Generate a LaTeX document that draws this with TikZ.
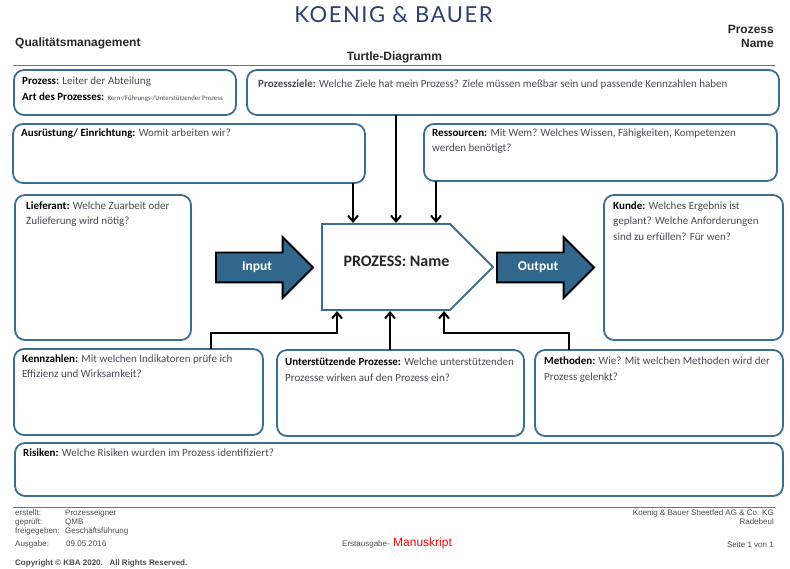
\documentclass[tikz,border=0pt]{standalone}
\usepackage{fontspec}
\setmainfont{Carlito}
\newfontfamily\hfont{Liberation Sans}
\newfontfamily\logofont[LetterSpace=7]{Lato}
\usetikzlibrary{shapes.arrows,arrows.meta}
\definecolor{edge}{HTML}{3A6E92}
\definecolor{fillblue}{HTML}{31678C}
\definecolor{bodytxt}{HTML}{4A4A55}
\definecolor{logoblue}{HTML}{2C3F73}
\tikzset{
 x=1pt,y=-1pt,
 box/.style={draw=edge,line width=1.8pt,rounded corners=10pt,inner sep=0pt,outer sep=0pt,fill=white},
 boxtxt/.style={anchor=west,inner sep=0pt,align=left,text=bodytxt,font=\fontsize{11}{15.4}\selectfont},
 hdr/.style={inner sep=0pt,font=\fontsize{12}{14}\selectfont\hfont\bfseries,text=black!85},
 foot/.style={inner sep=0pt,anchor=west,text=black!70,font=\fontsize{8}{9}\selectfont\hfont},
 footr/.style={foot,anchor=east},
 rulel/.style={draw=black!55,line width=0.9pt},
 conn/.style={draw=black,line width=2pt,-{Straight Barb[length=6pt,width=10pt,line width=2pt]}},
 bigarrow/.style={shape=single arrow,draw=black,line width=1.8pt,fill=fillblue,inner xsep=0pt,inner ysep=8.75pt,outer sep=0pt,
   anchor=tail,minimum width=59pt,minimum height=97pt,single arrow head extend=15.5pt,single arrow head indent=0pt,
   text height=8pt,text depth=2.5pt,text=white,font=\fontsize{13.5}{14}\selectfont\bfseries},
 procshape/.style={draw=edge,line width=1.8pt,fill=white,line join=miter},
}
\newcommand{\rbox}[5]{\node[box,minimum width=#4 pt-#2 pt,minimum height=#5 pt-#3 pt] (#1) at ({(#2+#4)/2},{(#3+#5)/2}) {};}
\begin{document}
\begin{tikzpicture}
\useasboundingbox (0,0) rectangle (790,569);
% header
\node[inner sep=0pt,text=logoblue,font=\fontsize{22}{24}\selectfont\logofont] (logo) at (393.5,15) {KOENIG \& BAUER};
\node[hdr,anchor=west] (qm) at (15,43) {Qualitätsmanagement};
\node[hdr,anchor=east] (pr1) at (774,29) {Prozess};
\node[hdr,anchor=east] (pr2) at (774,43) {Name};
\node[hdr] (turtle) at (394.5,57.5) {Turtle-Diagramm};
\coordinate (hl) at (13,65); \coordinate (hr) at (775,65);
\draw[rulel] (hl) -- (hr);
% boxes
\rbox{prozess}{14}{70}{236}{115}
\rbox{ziele}{247}{70}{779}{115}
\rbox{aus}{13}{124}{365}{183}
\rbox{res}{424}{124}{777}{181}
\rbox{lief}{15}{195}{191}{340}
\rbox{kunde}{604}{195}{783}{340}
\rbox{kenn}{14}{349}{263}{435}
\rbox{unter}{277}{350}{524}{436}
\rbox{meth}{535}{350}{783}{436}
\rbox{ris}{15}{443}{783}{496}
% box texts
\node[boxtxt] (t1) at (22,82) {\textcolor{black}{\textbf{Prozess:}} Leiter der Abteilung};
\node[boxtxt] (t1b) at (22,97) {\textcolor{black}{\textbf{Art des Prozesses:}} {\fontsize{6.8}{7}\selectfont Kern-/Führungs-/Unterstützender Prozess}};
\node[boxtxt] (t2) at (258,85) {\textbf{Prozessziele:} Welche Ziele hat mein Prozess? Ziele müssen meßbar sein und passende Kennzahlen haben};
\node[boxtxt] (t3) at (21,134) {\textcolor{black}{\textbf{Ausrüstung/ Einrichtung:}} Womit arbeiten wir?};
\node[boxtxt,anchor=north west] (t4) at (432,128.5) {\textcolor{black}{\textbf{Ressourcen:}} Mit Wem? Welches Wissen, Fähigkeiten, Kompetenzen\\werden benötigt?};
\node[boxtxt,anchor=north west] (t5) at (26,201.5) {\textcolor{black}{\textbf{Lieferant:}} Welche Zuarbeit oder\\Zulieferung wird nötig?};
\node[boxtxt,anchor=north west] (t6) at (613,201.5) {\textcolor{black}{\textbf{Kunde:}} Welches Ergebnis ist\\geplant? Welche Anforderungen\\sind zu erfüllen? Für wen?};
\node[boxtxt,anchor=north west] (t7) at (22,354.5) {\textcolor{black}{\textbf{Kennzahlen:}} Mit welchen Indikatoren prüfe ich\\Effizienz und Wirksamkeit?};
\node[boxtxt,anchor=north west] (t8) at (285,358) {\textcolor{black}{\textbf{Unterstützende Prozesse:}} Welche unterstützenden\\Prozesse wirken auf den Prozess ein?};
\node[boxtxt,anchor=north west] (t9) at (544,357) {\textcolor{black}{\textbf{Methoden:}} Wie? Mit welchen Methoden wird der\\Prozess gelenkt?};
\node[boxtxt] (t10) at (23,453) {\textcolor{black}{\textbf{Risiken:}} Welche Risiken wurden im Prozess identifiziert?};
% process
\draw[procshape] (322,224) -- (450,224) -- (493,267) -- (450,310) -- (322,310) -- cycle;
\node[inner sep=0pt,font=\fontsize{16}{18}\selectfont\bfseries,text=black!85] (proct) at (396.5,261) {PROZESS: Name};
\node[bigarrow] (inp) at (216,267.5) {Input\hspace{7pt}};
\node[bigarrow] (outp) at (497,267.5) {Output\hspace{9pt}};
% connectors
\coordinate (a1) at (353,223); \coordinate (a2) at (396,223); \coordinate (a3) at (436,223);
\draw[conn] (aus.south -| a1) -- (a1);
\draw[conn] (ziele.south -| a2) -- (a2);
\draw[conn] (res.south -| a3) -- (a3);
\coordinate (b1) at (337,311); \coordinate (b2) at (390,311); \coordinate (b3) at (444,311);
\coordinate (k1) at (211,333); \coordinate (m1) at (569,333);
\draw[conn] (kenn.north -| k1) -- (k1) -- (k1 -| b1) -- (b1);
\draw[conn] (unter.north -| b2) -- (b2);
\draw[conn] (meth.north -| m1) -- (m1) -- (m1 -| b3) -- (b3);
% footer
\coordinate (fl) at (13,507); \coordinate (fr) at (775,507);
\draw[rulel] (fl) -- (fr);
\node[foot] (f1) at (15,513) {erstellt:};
\node[foot] (f2) at (65,513) {Prozesseigner};
\node[foot] (f3) at (15,522) {geprüft:};
\node[foot] (f4) at (65,522) {QMB};
\node[foot] (f5) at (15,531.5) {freigegeben:};
\node[foot] (f6) at (65,531.5) {Geschäftsführung};
\node[foot] (f7) at (15,544) {Ausgabe:};
\node[foot] (f8) at (66,544) {09.05.2016};
\node[foot] (f9) at (342,544.5) {Erstausgabe-};
\node[foot,text=red,font=\fontsize{12}{14}\selectfont\hfont] (f10) at (393,543.5) {Manuskript};
\node[footr] (f11) at (774,513) {Koenig \& Bauer Sheetfed AG \& Co. KG};
\node[footr] (f12) at (774,522) {Radebeul};
\node[footr] (f13) at (774,544.5) {Seite 1 von 1};
\node[foot,font=\fontsize{8}{9}\selectfont\hfont\bfseries] (f14) at (15,563) {Copyright © KBA 2020.\ \ \ All Rights Reserved.};
\end{tikzpicture}
\end{document}
